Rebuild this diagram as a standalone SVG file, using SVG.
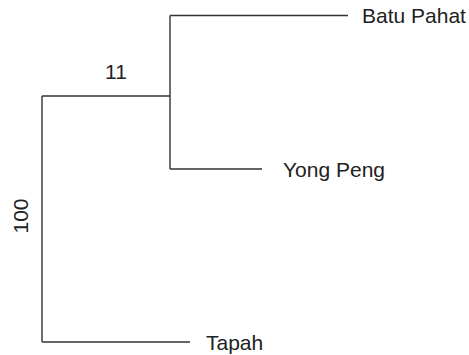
<svg xmlns="http://www.w3.org/2000/svg" width="469" height="355" viewBox="0 0 469 355">
<style>
.e{stroke:#333;stroke-width:1.4;fill:none}
.t{font-family:"Liberation Sans",Arial,sans-serif;font-size:21px;fill:#222}
</style>
<rect width="469" height="355" fill="#fff"/>
<g id="connectors">
<path class="e" d="M42,96 V342 M42,96 H170 M42,342 H190 M170,15.5 V169 M170,15.5 H348 M170,169 H262"/>
</g>
<g id="batu-pahat"><text class="t" x="362" y="22.5">Batu Pahat</text></g>
<g id="yong-peng"><text class="t" x="283" y="176.5">Yong Peng</text></g>
<g id="tapah"><text class="t" x="206" y="349.5">Tapah</text></g>
<g id="label-11"><text class="t" x="116" y="79" text-anchor="middle">11</text></g>
<g id="label-100"><text class="t" transform="translate(28,216) rotate(-90)" text-anchor="middle">100</text></g>
</svg>
